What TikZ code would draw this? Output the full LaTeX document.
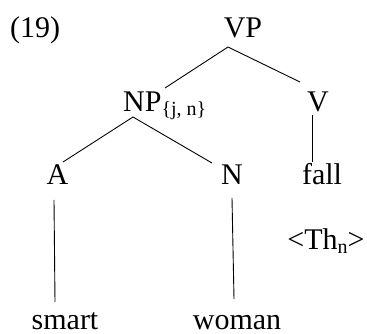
\documentclass[tikz,border=0pt]{standalone}
\usepackage{fontspec}
\setmainfont{Liberation Serif}
\begin{document}
\begin{tikzpicture}[x=1pt,y=-1pt,
  lbl/.style={inner sep=0pt,anchor=base,font=\fontsize{30}{36}\selectfont},
  edge/.style={line width=0.9pt,black}]
\newcommand{\subtxt}[1]{\raisebox{-4pt}{\fontsize{20}{24}\selectfont #1}}
\useasboundingbox (0,0) rectangle (367,334);
% labels
\node[lbl,anchor=base west] (ex) at (10,38) {(19)};
\node[lbl] (VP) at (243,38) {VP};
\node[lbl,anchor=base west] (NP) at (123,112) {NP\subtxt{\{j, n\}}};
\node[lbl] (V) at (318,112) {V};
\node[lbl] (A) at (57.5,185) {A};
\node[lbl] (N) at (232,185) {N};
\node[lbl] (fall) at (322,185) {fall};
\node[lbl] (Th) at (326,249) {<Th\subtxt{n}>};
\node[lbl,text depth=0pt] (smart) at (65,329) {smart};
\node[lbl,text depth=0pt] (woman) at (237,329) {woman};
% branches
\draw[edge] ([shift={(-15,9)}]VP.base) -- ([shift={(42,-24)}]NP.base west);
\draw[edge] ([shift={(-15,9)}]VP.base) -- ([shift={(-18,-30)}]V.base);
\draw[edge] ([shift={(10,5)}]NP.base west) -- ([shift={(5.5,-23)}]A.base);
\draw[edge] ([shift={(10,5)}]NP.base west) -- ([shift={(-20,-22)}]N.base);
\draw[edge] ([shift={(-6,3)}]V.base) -- ([shift={(-10,-23)}]fall.base);
\draw[edge] ([shift={(-3.5,15)}]A.base) -- ([shift={(-10,-27)}]smart.base);
\draw[edge] ([shift={(0,13)}]N.base) -- ([shift={(-3,-30)}]woman.base);
\end{tikzpicture}
\end{document}
